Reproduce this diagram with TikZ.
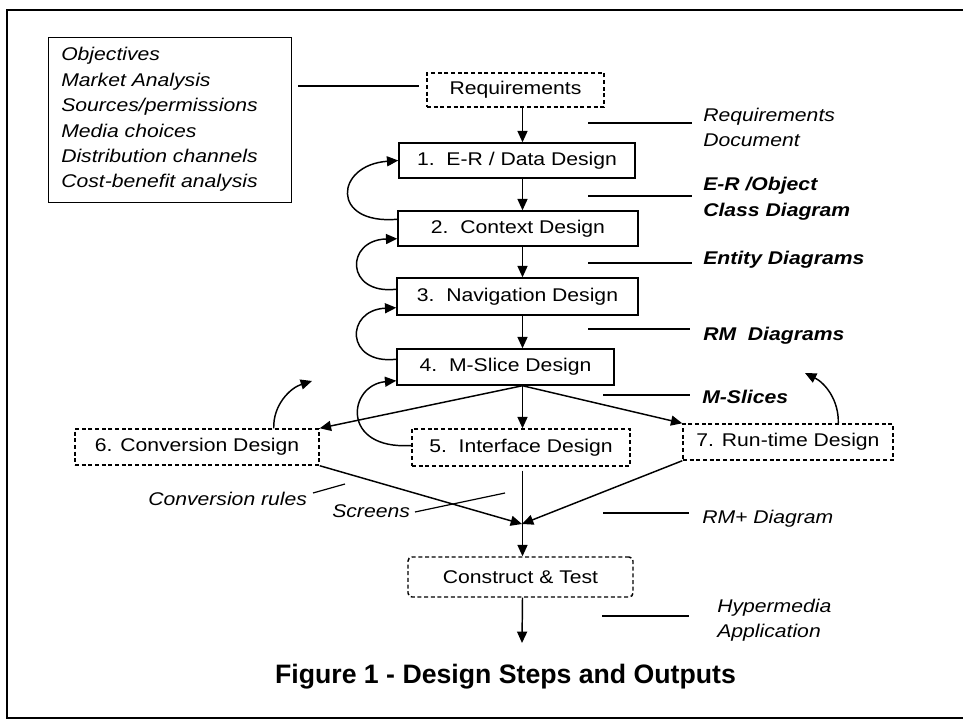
\documentclass[tikz,border=0pt]{standalone}
\usepackage{fontspec}
\setmainfont{Liberation Sans}[FakeStretch=1.15]
\newfontfamily\titlefont{Liberation Sans}
\usetikzlibrary{arrows.meta,calc}

\begin{document}
\begin{tikzpicture}[x=0.75pt,y=-0.75pt,
  every node/.style={font=\fontsize{13.8}{16}\selectfont, inner sep=0pt},
  sz/.style 2 args={minimum width=#1*0.75pt, minimum height=#2*0.75pt},
  stepbox/.style={draw, line width=1.1pt},
  dashbox/.style={draw, line width=1.1pt, dash pattern=on 3pt off 2pt},
  arr/.style={line width=1.1pt, -{Triangle[length=8.5pt,width=7.5pt]}},
  lead/.style={line width=0.9pt},
  itlbl/.style={anchor=base west, font=\fontsize{13.8}{16}\selectfont\itshape},
  bdlbl/.style={anchor=base west, font=\fontsize{13.8}{16}\selectfont\bfseries\itshape}]

\useasboundingbox (0,0) rectangle (963,720);

% page frame
\draw[line width=1.8pt] (963,10) -- (7,10) -- (7,718) -- (963,718);

% list of requirement topics
\node[stepbox, line width=1pt, sz={243}{165}, anchor=north west] (goals) at (48,37) {};
\foreach \t [count=\i from 0] in {Objectives, Market Analysis, Sources/permissions,
    Media choices, Distribution channels, Cost-benefit analysis}
  \node[itlbl] (goal\i) at (61,{61+25.4*\i}) {\t};

% design steps
\node[dashbox, sz={177}{34}] (req) at (515.5,90) {Requirements};
\node[stepbox, sz={236}{35}] (b1) at (517,160.5) {1.\ \ E-R / Data Design};
\node[stepbox, sz={240}{35}] (b2) at (518,228.5) {2.\ \ Context Design};
\node[stepbox, sz={241}{37}] (b3) at (517.5,296.5) {3.\ \ Navigation Design};
\node[stepbox, sz={217}{36}] (b4) at (505.5,367) {4.\ \ M-Slice Design};
\node[dashbox, sz={218}{37}] (b5) at (521,447.5) {5.\ \ Interface Design};
\node[dashbox, sz={244}{36}] (b6) at (197,447) {6. Conversion Design};
\node[dashbox, sz={210}{36}] (b7) at (788,442) {7. Run-time Design};
\node[dashbox, rounded corners=3pt, sz={225}{40}] (ct) at (520.5,577) {Construct \& Test};

\coordinate (spine) at (522.5,0);
\coordinate (meet) at (522,524);
\coordinate (done) at (522,643);
\coordinate (c6end) at (312,381);
\coordinate (c7end) at (805,373);

% main flow
\draw[arr] (req.south -| spine) -- (b1.north -| spine);
\draw[arr] (b1.south -| spine) -- (b2.north -| spine);
\draw[arr] (b2.south -| spine) -- (b3.north -| spine);
\draw[arr] (b3.south -| spine) -- (b4.north -| spine);
\draw[arr] (b4.south -| spine) -- (b5.north -| spine);
\draw[arr] (b4.south -| spine) -- (b6.north east);
\draw[arr] (b4.south -| spine) -- (b7.north west);
\draw[arr] (b6.south east) -- (meet);
\draw[arr] (b7.south west) -- (meet);
\draw[arr] ($(b5.south -| spine)+(0,4)$) -- (ct.north -| spine);
\draw[arr] (ct.south -| spine) -- (done);

% feedback loops
\draw[arr] ($(b2.north west)+(0,9)$) .. controls (330,225) and (335,165) .. (b1.west);
\draw[arr] ($(b3.north west)+(0,12)$) .. controls (345,295) and (345,240) .. ($(b2.south west)+(0,-8)$);
\draw[arr] ($(b4.north west)+(0,11)$) .. controls (345,365) and (345,310) .. ($(b3.south west)+(0,-8)$);
\draw[arr] ($(b5.west)+(0,-2)$) .. controls (340,450) and (348,385) .. ($(b4.south west)+(0,-5)$);
\draw[arr] ($(b6.north east)+(-46,0)$) .. controls (273,405) and (290,388) .. (c6end);
\draw[arr] ($(b7.north west)+(156,0)$) .. controls (839,400) and (825,383) .. (c7end);

% outputs
\draw[lead] (298,86) -- (419,86);
\node[itlbl] (o1a) at (703,122) {Requirements};
\node[itlbl] (o1b) at (703,147) {Document};
\draw[lead] (588,123) -- (692,123);
\node[bdlbl] (o2a) at (703,191) {E-R /Object};
\node[bdlbl] (o2b) at (703,217) {Class Diagram};
\draw[lead] (588,196) -- (692,196);
\node[bdlbl] (o3) at (703,265) {Entity Diagrams};
\draw[lead] (588,263) -- (692,263);
\node[bdlbl] (o4) at (703,340) {RM\ \ Diagrams};
\draw[lead] (588,329) -- (690,329);
\node[bdlbl] (o5) at (702,403) {M-Slices};
\draw[lead] (603,395) -- (690,395);
\node[itlbl] (o6) at (702,523) {RM+ Diagram};
\draw[lead] (603,513) -- (689,513);
\node[itlbl] (o7a) at (717,612) {Hypermedia};
\node[itlbl] (o7b) at (717,637) {Application};
\draw[lead] (602,616) -- (689,616);
\node[itlbl] (o8) at (148,505) {Conversion rules};
\draw[lead] (313,493) -- (345,484);
\node[itlbl] (o9) at (332,517) {Screens};
\draw[lead] (415,512) -- (505,493);

% caption
\node[font=\titlefont\bfseries\fontsize{20}{24}\selectfont, anchor=base] (title) at (505.5,683)
  {Figure 1 - Design Steps and Outputs};
\end{tikzpicture}
\end{document}
